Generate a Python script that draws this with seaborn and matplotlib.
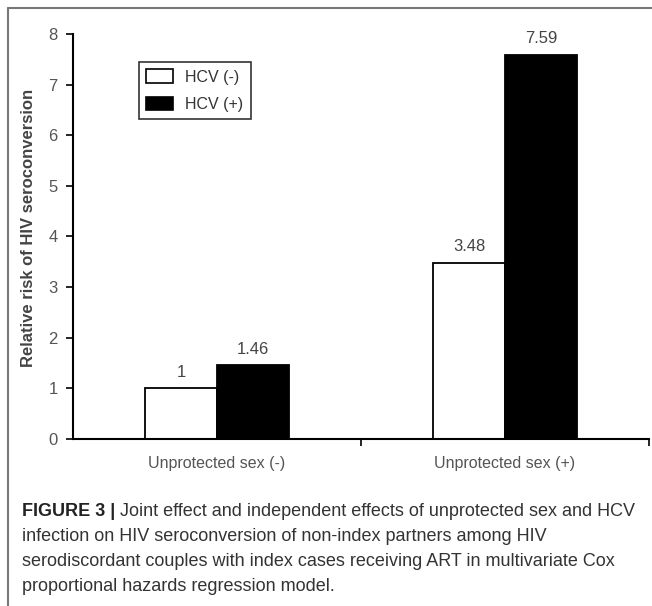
import matplotlib
matplotlib.use("Agg")
import matplotlib.pyplot as plt
from matplotlib.lines import Line2D
from matplotlib.patches import Patch
import seaborn as sns
import pandas as pd

# values
exposure = ["Unprotected sex (-)", "Unprotected sex (-)", "Unprotected sex (+)", "Unprotected sex (+)"]
hcv = ["HCV (-)", "HCV (+)", "HCV (-)", "HCV (+)"]
relative_risk = [1, 1.46, 3.48, 7.59]
groups = ["Unprotected sex (-)", "Unprotected sex (+)"]
hcv_levels = ["HCV (-)", "HCV (+)"]
y_ticks = [0, 1, 2, 3, 4, 5, 6, 7, 8]

caption_bold = "FIGURE 3 |"
caption_lines = [
    " Joint effect and independent effects of unprotected sex and HCV",
    "infection on HIV seroconversion of non-index partners among HIV",
    "serodiscordant couples with index cases receiving ART in multivariate Cox",
    "proportional hazards regression model.",
]

df = pd.DataFrame({"exposure": exposure, "hcv": hcv, "rr": relative_risk})

sns.set_style("white")
plt.rcParams["font.family"] = ["Liberation Sans", "DejaVu Sans"]

W, H = 652, 606
fig = plt.figure(figsize=(W / 100, H / 100), dpi=100)
ax = fig.add_axes([73 / W, (H - 439) / H, (649 - 73) / W, (439 - 34) / H])

sns.barplot(data=df, x="exposure", y="rr", hue="hcv", order=groups, hue_order=hcv_levels,
            palette=["white", "black"], edgecolor="black", linewidth=1.3, width=0.5,
            saturation=1, ax=ax, legend=False)

for cont in ax.containers:
    ax.bar_label(cont, fmt="%g", padding=6, fontsize=12, color="#444444")

ax.set_xlim(-0.5, 1.5)
ax.set_ylim(0, 8)
ax.set_yticks(y_ticks)
ax.set_xlabel("")
ax.set_ylabel("Relative risk of HIV seroconversion", fontsize=12, fontweight="bold",
              color="#444444", labelpad=9, y=0.52)
sns.despine(ax=ax)
for s in ["left", "bottom"]:
    ax.spines[s].set_color("black")
    ax.spines[s].set_linewidth(1.5)
ax.tick_params(axis="y", direction="out", length=5, width=1.2, color="black",
               labelsize=12, labelcolor="#555555", pad=6, left=True)
ax.tick_params(axis="x", which="major", length=0, labelsize=11.5, labelcolor="#555555", pad=12)
ax.set_xticks([0.5, 1.5], minor=True)
ax.tick_params(axis="x", which="minor", direction="out", length=5, width=1.2, color="black", bottom=True)

handles = [Patch(facecolor="white", edgecolor="black", linewidth=1.2),
           Patch(facecolor="black", edgecolor="black", linewidth=1.2)]
leg = ax.legend(handles, hcv_levels, loc="upper left", bbox_to_anchor=((139 - 73) / 576, (439 - 62) / 405),
                frameon=True, fancybox=False, fontsize=11.5, handlelength=1.7, handleheight=0.95,
                borderpad=0.45, labelspacing=0.75, handletextpad=0.75, borderaxespad=0)
leg.get_frame().set_edgecolor("black")
leg.get_frame().set_linewidth(1.2)
for t in leg.get_texts():
    t.set_color("#333333")

# frame lines of the figure panel
fig.add_artist(Line2D([8 / W, 8 / W], [0, 1 - 8 / H], color="#777777", lw=1.5))
fig.add_artist(Line2D([8 / W, 1], [1 - 8 / H, 1 - 8 / H], color="#777777", lw=1.5))

# caption
fig.canvas.draw()
renderer = fig.canvas.get_renderer()
cap_size = 13
y0 = 511
tb = fig.text(22 / W, 1 - y0 / H, caption_bold, fontsize=cap_size, fontweight="bold",
              color="#222222", va="center", ha="left")
bb = tb.get_window_extent(renderer)
fig.text(bb.x1 / W, 1 - y0 / H, caption_lines[0], fontsize=cap_size, color="#333333",
         va="center", ha="left")
for i, line in enumerate(caption_lines[1:], start=1):
    fig.text(22 / W, 1 - (y0 + 25.3 * i) / H, line, fontsize=cap_size, color="#333333",
             va="center", ha="left")

fig.savefig("out.png", dpi=100)
